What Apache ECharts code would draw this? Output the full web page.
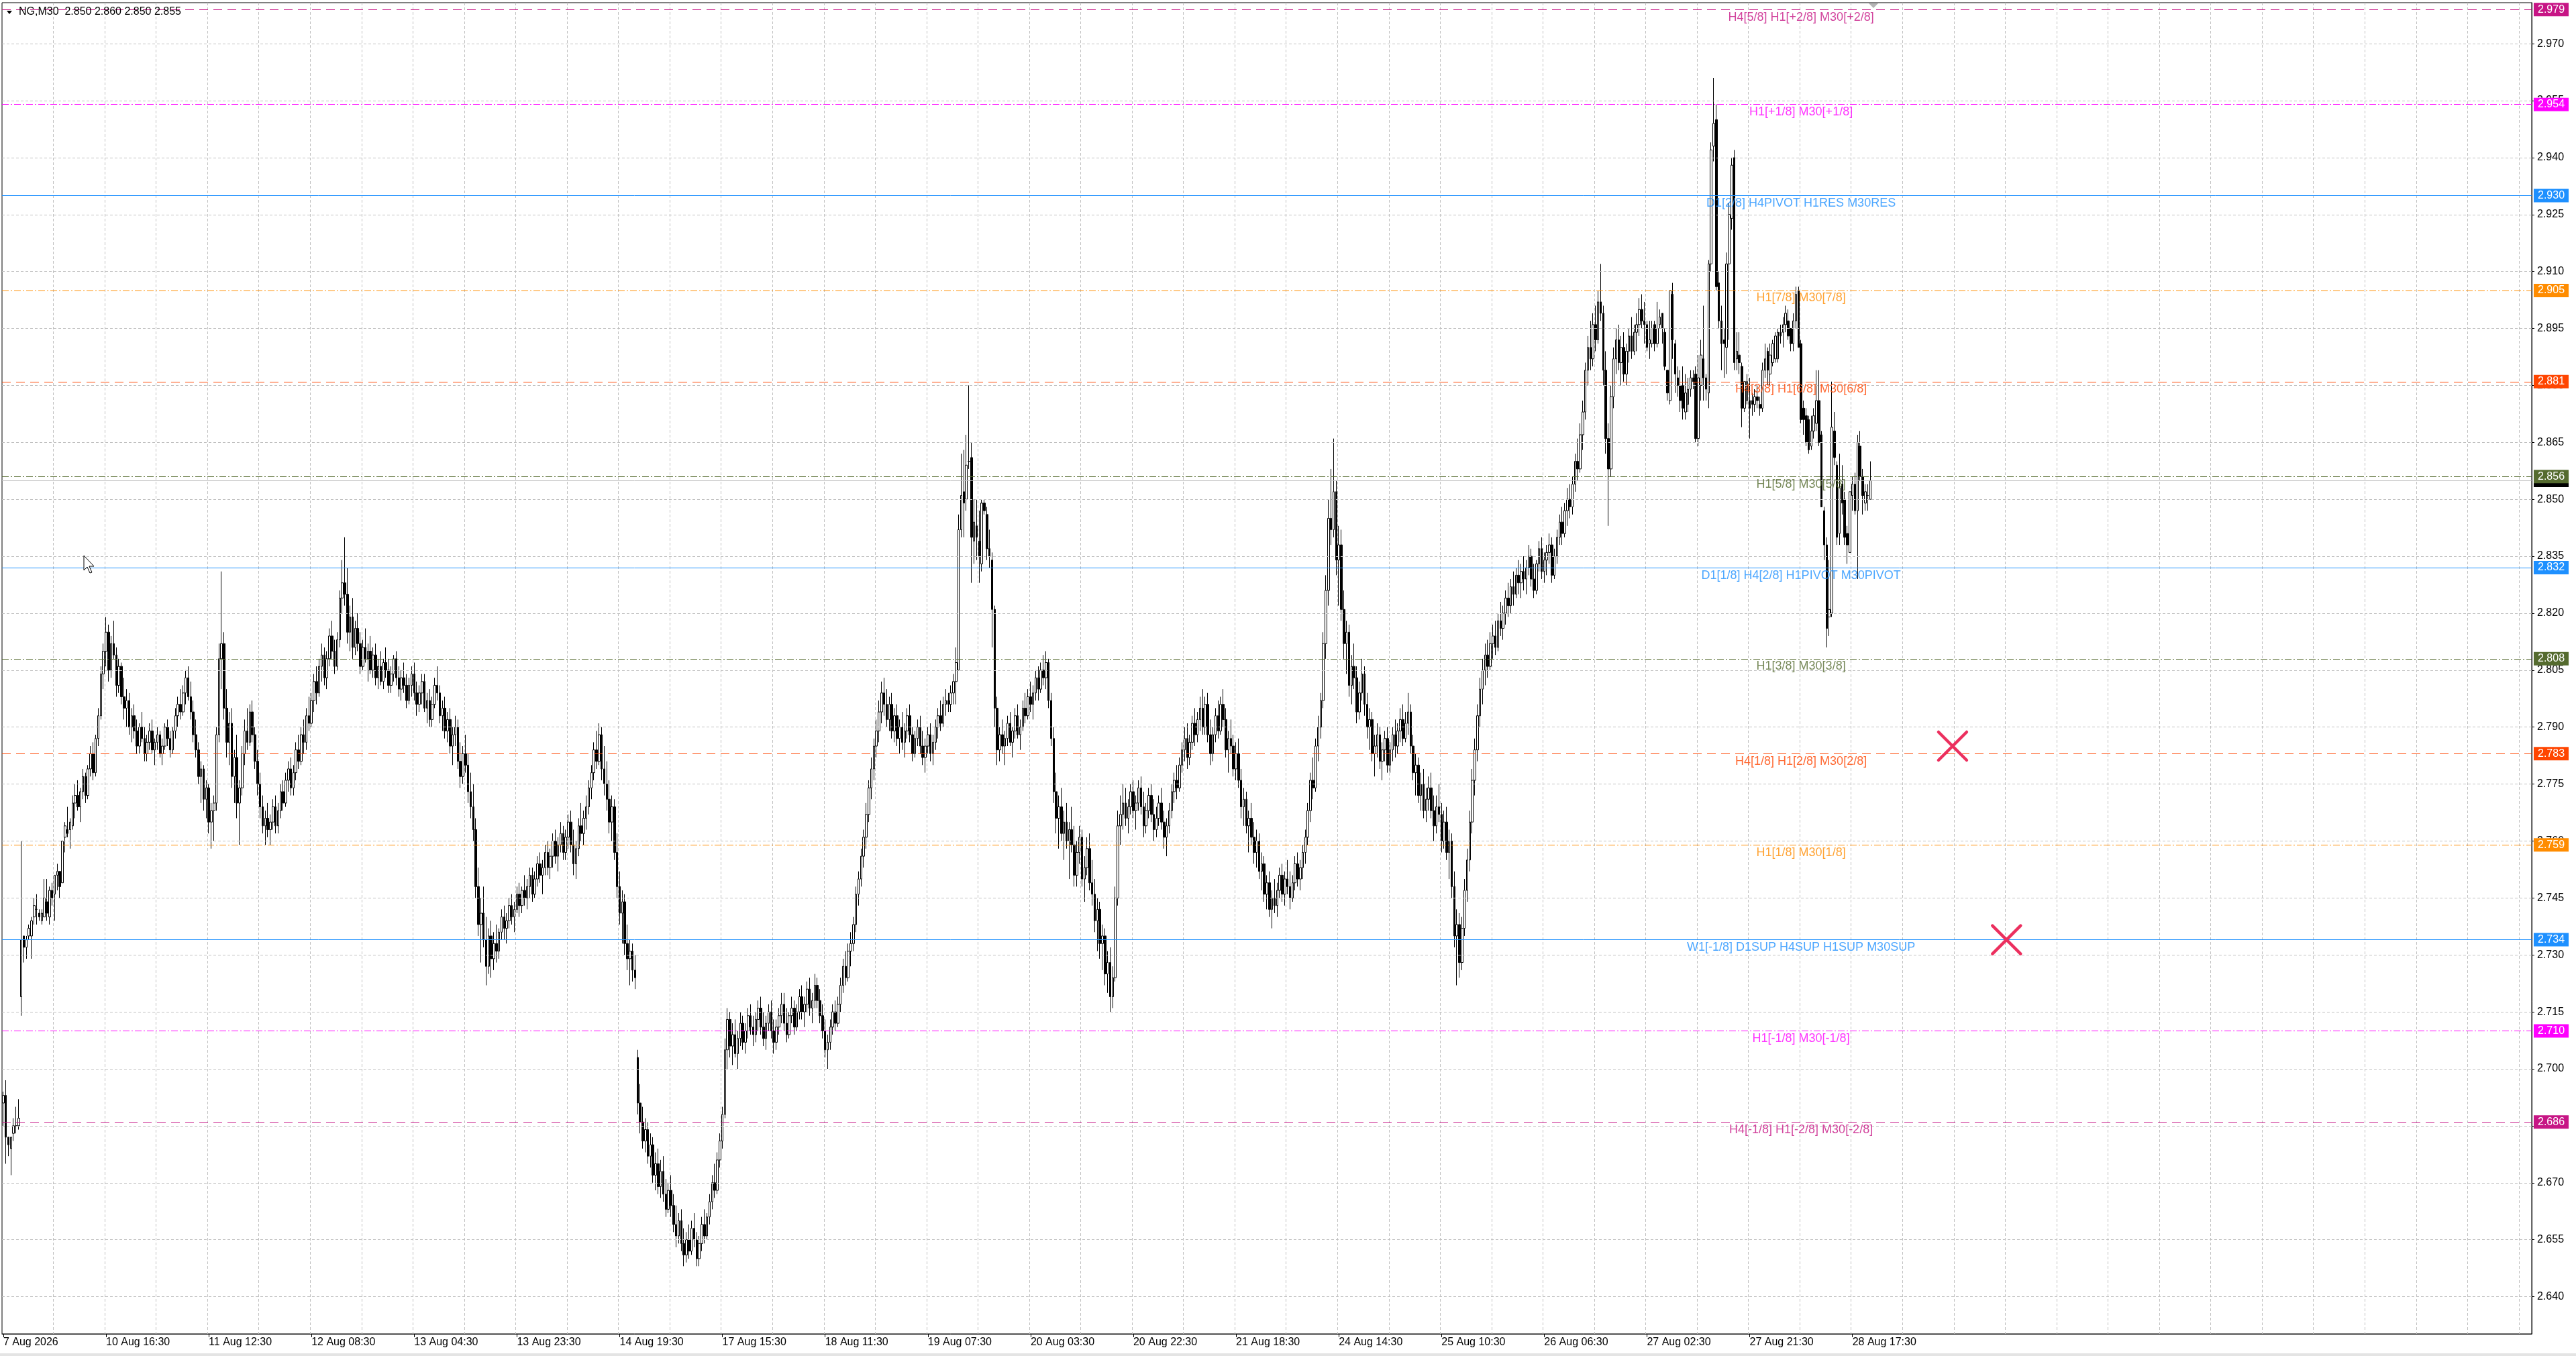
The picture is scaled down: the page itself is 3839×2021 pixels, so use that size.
<!DOCTYPE html>
<html><head><meta charset="utf-8">
<script src="https://cdn.jsdelivr.net/npm/echarts@6/dist/echarts.min.js"></script>
<style>html,body{margin:0;padding:0;background:#fff;overflow:hidden}#c{width:3839px;height:2021px}</style>
</head><body><div id="c"></div>
<script>
// ---------------- DATA ----------------
const SYMBOL = 'NG,M30';
const xTickLabels = ['7 Aug 2026','10 Aug 16:30','11 Aug 12:30','12 Aug 08:30','13 Aug 04:30','13 Aug 23:30','14 Aug 19:30','17 Aug 15:30','18 Aug 11:30','19 Aug 07:30','20 Aug 03:30','20 Aug 22:30','21 Aug 18:30','24 Aug 14:30','25 Aug 10:30','26 Aug 06:30','27 Aug 02:30','27 Aug 21:30','28 Aug 17:30'];
const yTickValues = [2.640,2.655,2.670,2.685,2.700,2.715,2.730,2.745,2.760,2.775,2.790,2.805,2.820,2.835,2.850,2.865,2.880,2.895,2.910,2.925,2.940,2.955,2.970];
const levelValues = [2.979,2.954,2.930,2.905,2.881,2.856,2.832,2.808,2.783,2.759,2.734,2.710,2.686];
const levelNames = ['H4[5/8] H1[+2/8] M30[+2/8]','H1[+1/8] M30[+1/8]','D1[2/8] H4PIVOT H1RES M30RES','H1[7/8] M30[7/8]','H4[3/8] H1[6/8] M30[6/8]','H1[5/8] M30[5/8]','D1[1/8] H4[2/8] H1PIVOT M30PIVOT','H1[3/8] M30[3/8]','H4[1/8] H1[2/8] M30[2/8]','H1[1/8] M30[1/8]','W1[-1/8] D1SUP H4SUP H1SUP M30SUP','H1[-1/8] M30[-1/8]','H4[-1/8] H1[-2/8] M30[-2/8]'];
const bidPrice = 2.855;
const crossBars = [759, 780];
const crossPrices = [2.785, 2.734];
// bars: [open, high, low, close] in thousandths above 2.000
const ohlcPart1 = [
[691,694,685,693],[693,697,675,682],[682,682,677,680],[679,682,672,682],[683,687,681,685],[685,690,683,685],[685,692,684,687],
[719,760,714,734],[735,735,728,732],[732,735,729,734],[735,738,734,737],[735,740,729,739],[740,745,738,743],[742,746,738,742],[741,742,739,740],[739,742,738,741],[740,750,740,745],[744,750,739,741],[740,748,738,747],[747,749,743,745],[746,751,739,751],[751,754,747,752],[752,752,745,748],[749,760,749,760],[761,765,757,764],[763,769,761,762],[763,766,758,765],[764,772,763,770],
[770,775,766,772],[772,776,768,769],[769,774,765,773],[773,779,771,777],[777,778,770,772],[772,780,771,779],[779,785,777,783],[783,786,776,778],[778,788,777,787],[787,795,785,793],[793,806,792,804],[804,812,800,810],[810,819,806,815],[815,817,802,805],[805,814,803,812],[812,818,808,809],[809,811,798,801],[801,808,799,806],[806,807,796,798],[798,803,792,795],[795,800,790,797],[797,799,788,790],
[790,795,786,793],[793,796,787,789],[789,792,783,785],[785,791,783,790],[790,794,786,787],[787,790,781,783],[783,788,781,786],[786,791,784,789],[789,792,783,784],[784,787,780,786],[786,790,784,788],[788,789,782,783],[783,787,780,785],[785,791,784,790],[790,792,785,787],[787,789,782,784],[784,790,783,789],[789,795,787,793],[793,798,790,796],[796,800,792,794],
[794,801,793,799],[799,805,796,803],[803,806,797,798],[798,802,792,794],[794,797,786,788],[788,792,782,784],[784,786,775,777],[777,781,770,779],[779,780,768,771],[771,776,766,774],[774,775,762,765],[765,770,758,768],[768,772,760,770],
[770,790,768,788],[788,812,786,808],[808,831,800,812],[812,815,792,795],[795,800,782,786],[786,794,780,791],[791,795,774,777],[777,784,770,782],[782,788,766,770],
[770,776,759,774],[774,785,772,783],[783,792,780,789],[789,795,784,786],[786,796,785,794],[794,797,786,788],[788,790,779,781],[781,784,772,775],[775,778,766,769],
[769,772,762,764],[764,768,759,766],[766,770,761,763],[763,767,759,765],[765,771,763,769],[769,772,762,764],[764,770,762,768],
[768,775,766,773],[773,776,768,770],[770,778,769,776],[776,781,773,779],[779,782,772,774],[774,780,772,778],[778,786,776,784],[784,788,779,781],[781,790,780,788],[788,792,783,786],
[786,795,784,793],[793,798,789,791],[791,799,790,797],[797,804,794,802],[802,806,796,799],[799,808,798,806],
[806,812,802,809],[809,811,801,803],[803,810,800,808],[808,816,806,814],[814,818,808,810],[810,813,804,806],[806,815,805,813],
[813,826,811,824],[824,834,820,828],[828,840,822,825],[825,832,812,815],[815,822,810,819],[819,824,808,811],
[811,818,809,816],[816,820,810,812],[812,815,804,806],[806,813,805,811],[811,816,807,808],[808,812,802,810],[810,814,804,805],[805,811,803,809],[809,812,801,803],[803,808,800,806],
[806,810,801,802],[802,808,800,807],[807,811,803,805],[805,808,799,801],[801,806,799,804],[804,809,802,808],[808,810,801,803],[803,806,798,800],[800,805,797,803],[803,807,799,801],[801,804,795,797],[797,803,796,801],
[801,806,798,804],[804,807,797,799],[799,802,793,796],[796,801,794,799],[799,804,796,802],[802,804,794,795],[795,799,791,797],[797,800,790,792],[792,798,790,796],[796,803,795,801],[801,806,797,799],[799,801,791,793],[793,797,789,795],
[795,798,787,789],[789,794,786,792],[792,795,783,785],[785,790,780,788],[788,793,785,790],[790,792,779,781],[781,786,774,777],[777,785,775,783],[783,788,778,780],[780,783,770,773],
[773,778,766,769],[769,775,760,763],[763,766,745,748],[748,753,735,738],[738,745,728,741],[741,748,732,734],[734,740,722,727],[727,737,725,735],[735,739,724,729],
[729,736,726,733],[733,738,728,731],[731,737,729,736],[736,742,734,740],[740,743,734,737],[737,741,733,739],[739,745,737,743],[743,746,738,740],[740,744,736,742],[742,748,741,746],[746,749,740,743],[743,748,741,747],[747,751,743,745],
[745,750,742,748],[748,753,745,751],[751,753,744,746],[746,752,745,750],[750,756,748,754],[754,757,749,751],[751,755,746,753],[753,759,751,757],[757,760,751,753],[753,758,750,756],[756,762,753,760],[760,763,754,756],[756,761,752,759],[759,765,757,762],[762,764,755,757],[757,763,755,761],
[761,767,758,765],[765,768,757,759],[759,763,751,754],[754,760,750,758],[758,766,756,764],[764,770,760,762],[762,768,759,766],[766,772,763,769],[769,776,767,774],[774,780,771,778],
[778,786,776,784],[784,789,779,781],[781,791,780,788],[788,790,776,779],[779,785,772,775],
[775,781,768,771],[771,776,762,765],[765,772,760,769],[769,771,755,757],
[757,762,745,748],[748,752,738,741],[741,747,733,744],[744,746,730,733],[733,738,726,729],[729,734,722,731],[731,733,723,726],[726,730,721,724]
];
const ohlcPart2 = [
[703,705,688,691],[691,696,683,686],[686,690,679,681],[681,687,678,684],[684,686,675,677],
[677,683,674,680],[680,682,670,672],[672,678,668,675],[675,679,667,669],[669,676,666,673],[673,677,665,667],[667,671,661,663],[663,670,662,668],[668,672,661,664],[664,667,657,659],
[659,664,653,656],[656,662,654,660],[660,663,652,654],[654,658,648,651],[651,657,649,655],[655,659,650,652],
[652,660,651,658],[658,662,653,655],[655,657,648,650],[650,656,648,654],[654,661,652,659],[659,663,654,656],[656,662,655,661],[661,667,659,665],
[665,672,663,670],[670,675,666,668],[668,678,667,676],[676,683,674,681],[681,690,679,688],
[688,708,687,705],[705,716,700,713],[713,715,703,706],
[706,712,701,709],[709,713,703,704],[704,710,700,708],[708,715,706,712],[712,714,705,707],[707,712,704,710],[710,716,708,714],[714,717,709,711],[711,714,706,709],[709,715,707,713],
[713,718,710,716],[716,719,709,711],[711,715,706,708],[708,714,705,712],[712,717,710,715],[715,718,708,710],[710,713,704,707],[707,713,705,711],[711,716,709,714],
[714,720,712,717],[717,720,710,712],[712,716,707,709],[709,715,708,714],[714,719,712,716],[716,718,709,711],[711,717,710,715],[715,721,713,719],[719,722,713,715],[715,719,711,717],
[717,723,715,721],[721,724,714,716],[716,720,712,718],[718,725,716,722],[722,724,716,718],[718,721,712,714],
[714,717,708,710],[710,713,703,705],[705,709,700,707],[707,713,705,711],[711,717,709,715],[715,718,710,712],[712,719,711,717],[717,724,715,722],
[722,729,720,727],[727,731,722,724],[724,733,723,731],[731,736,727,733],[733,740,731,738],
[738,748,736,746],[746,752,743,750],[750,758,748,756],[756,763,753,761],[761,770,758,767],
[767,776,765,774],[774,782,771,779],[779,787,776,785],[785,792,782,789],[789,797,786,794],
[794,802,791,799],[799,803,793,796],[796,800,790,792],[792,798,789,796],[796,799,787,789],[789,795,786,793],
[793,796,785,787],[787,792,783,790],[790,794,784,786],[786,791,782,789],[789,795,787,793],[793,796,786,788],[788,790,781,783],[783,789,782,787],[787,792,785,790],[790,793,783,785],
[785,789,780,782],[782,787,778,785],[785,790,783,788],[788,791,781,783],[783,788,780,786],[786,792,784,790],[790,795,787,793],[793,797,789,791],[791,798,790,796],[796,800,793,797],[797,799,794,796],[796,801,794,799],[799,804,796,802],[802,811,796,807],
[805,846,805,842],[842,862,840,851],[852,863,840,849],[850,867,847,859],[860,880,858,860],[861,865,828,840],[839,850,833,844],[843,850,834,840],[839,847,828,835],[833,850,831,849],[849,850,846,847],[846,848,834,837],[837,842,832,835],[834,836,811,821],[821,822,790,795],[795,798,780,784],
[784,790,781,788],[788,792,783,785],[785,789,780,787],[787,793,785,791],[791,794,785,786],[786,790,782,789],[789,795,787,793],[793,796,787,788],[788,792,784,790],[790,797,789,795],[795,799,791,793],[793,800,792,798],
[798,802,794,796],[796,801,792,799],[799,805,797,803],[803,806,797,800],[800,807,799,805],[805,809,801,803],[803,810,800,807],[807,808,795,797],[797,799,785,787],
[787,790,770,773],[773,778,762,766],[766,772,758,769],[769,774,760,762],[762,768,755,765],
[765,770,758,760],[760,765,750,763],[763,769,757,759],[759,764,748,751],[751,760,748,757],[757,764,754,761],[761,763,748,750],[750,756,744,753],[753,761,751,758],[758,762,747,749],[749,755,743,746],
[746,750,736,739],[739,745,731,742],[742,744,729,733],[733,738,726,735],[735,737,722,725],[725,731,720,728],[728,732,715,719],[719,727,716,724],
[724,748,723,745],[745,768,743,764],[764,772,759,767],[767,775,763,770],
[770,774,764,766],[766,771,762,769],[769,775,767,773],[773,776,766,768],[768,772,763,770],[770,776,768,774],[774,777,767,769],[769,773,761,764],[764,770,762,768],[768,774,766,772],[772,775,765,767],[767,771,760,763],[763,769,761,766],[766,772,764,770],[770,774,763,765],[765,768,758,761],
[761,766,756,764],[764,770,762,768],[768,775,766,773],[773,778,770,776],[776,780,771,774],[774,782,773,780],[780,786,778,784],
[784,790,781,787],[787,791,779,782],[782,788,780,786],[786,793,784,791],[791,795,785,788],[788,794,786,792],[792,798,789,795],[795,800,788,790],[790,798,788,796],
[796,799,786,788],[788,792,780,783],[783,790,781,788],[788,795,786,793],[793,797,787,789],[789,798,788,796],[796,800,790,792],[792,795,782,784],[784,789,778,787],[787,792,783,785],[785,788,777,779],[779,786,776,783],[783,787,774,776],
[776,779,766,769],[769,774,764,771],[771,773,762,764],[764,768,757,766],[766,770,759,761],[761,765,754,757],[757,763,753,760]
];
const ohlcPart3 = [
[760,762,750,752],[752,757,747,754],[754,756,744,746],[746,751,742,749],[749,752,740,742],[742,747,737,745],[745,750,741,743],[743,749,740,747],[747,753,745,751],
[751,754,744,746],[746,752,743,750],[750,755,746,748],[748,752,742,745],[745,751,744,749],[749,756,747,754],[754,757,748,750],[750,755,747,753],[753,759,750,757],[757,763,754,761],
[761,770,759,768],[768,778,765,776],[776,782,771,774],[774,787,773,785],[785,793,781,790],[790,799,787,797],
[797,815,795,812],[812,830,808,826],[826,850,822,845],[845,858,838,842],[842,866,840,852],[852,855,830,834],[834,843,822,838],[838,842,818,821],
[821,826,808,812],[812,818,804,815],[815,817,798,801],[801,809,796,806],[806,812,800,803],[803,806,791,794],[794,802,792,799],[799,808,797,804],[804,806,793,796],[796,799,787,790],[790,795,784,792],
[792,794,781,783],[783,788,777,785],[785,791,782,788],[788,790,779,781],[781,786,776,784],[784,789,781,787],[787,790,778,780],
[780,786,778,784],[784,790,781,788],[788,792,782,785],[785,791,783,789],[789,795,786,792],[792,796,785,787],[787,794,786,791],[791,799,788,794],[794,796,783,785],
[785,788,776,778],[778,783,772,780],[780,782,770,772],[772,778,768,775],[775,779,766,768],[768,774,765,771],[771,777,768,774],
[774,778,766,768],[768,772,760,764],[764,772,762,769],[769,775,765,767],[767,770,757,760],[760,768,758,765],[765,769,755,757],[757,763,750,760],[760,762,745,748],
[748,752,732,735],[735,742,722,738],[738,741,724,728],[728,740,726,737],[737,750,735,747],
[747,758,744,755],[755,768,752,765],[765,779,762,776],[776,787,772,784],[784,796,781,793],
[793,803,790,800],[800,808,796,805],[805,812,801,809],[809,813,803,806],[806,815,805,812],[812,817,808,814],[814,818,809,811],[811,820,810,818],
[818,823,814,816],[816,822,813,820],[820,826,817,824],[824,828,819,822],[822,829,820,827],[827,831,822,825],[825,832,824,830],[830,834,825,828],
[828,833,824,831],[831,835,826,829],[829,834,825,832],[832,838,830,835],[835,837,827,829],[829,833,824,826],[826,834,825,833],[833,839,831,837],[837,840,829,831],[831,836,828,834],[834,838,830,836],[836,841,833,838],[838,840,828,830],[830,837,829,835],[835,842,833,840],
[840,846,838,844],[844,848,838,841],[841,849,840,847],[847,853,843,850],[850,854,845,848],[848,856,846,854],
[854,862,852,860],[860,866,855,858],[858,870,857,867],[867,876,863,873],
[873,886,871,884],[884,893,880,890],[890,897,884,887],[887,899,885,896],[896,901,889,892],[892,905,891,902],[902,912,897,899],
[899,901,880,884],[884,889,862,866],[866,870,843,858],[858,880,856,877],[877,890,874,887],[887,895,883,892],
[892,896,884,886],[886,893,880,890],[890,894,881,883],[883,891,880,889],[889,895,886,893],[893,898,887,889],[889,896,888,894],
[894,899,889,896],[896,903,893,900],[900,904,895,897],[897,902,891,896],
[896,897,889,890],[891,897,887,892],[891,897,890,895],[896,897,889,891],[891,902,890,895],[896,900,895,898],[899,899,891,895],[894,895,884,885],[884,884,876,878],[876,905,875,905],[904,907,887,892],[891,892,878,883],[882,885,877,880],[880,884,873,876],[880,885,871,874],[873,883,871,878],[875,882,873,879],[879,884,877,882],
[882,884,879,881],
[883,885,865,866],[866,888,864,882],[880,892,876,888],[887,901,876,882],[882,883,876,879],[878,913,874,912],[912,944,910,942],[943,961,939,949],[950,954,905,906],[907,910,895,897],[897,901,884,891],[892,895,882,891],[890,915,883,912],[912,928,892,925],[924,940,921,938],[940,942,884,886],[887,894,884,889],[888,894,883,886],[885,886,869,874],[874,881,873,881],[876,883,875,881],[876,882,866,874],[876,878,872,875],[875,879,873,877],
[877,880,874,876],
[875,877,872,874],[874,886,873,884],[884,891,882,887],[889,890,880,884],[883,891,880,888],[886,892,885,891],[887,894,886,893],[887,895,886,894],
[894,896,891,893],
[894,898,890,896],[896,901,894,899],[897,900,892,893],[895,895,889,891],[891,899,889,897],[897,906,895,904],[905,906,890,890],[891,892,870,871],[874,876,867,871],[872,874,864,865],[871,872,862,863],[864,872,863,868],[868,874,866,872],[870,884,868,876],[876,884,864,865],
[867,868,848,848],[847,848,834,838],[838,840,811,816],[819,834,814,821],[820,881,819,869],[868,873,859,861],[859,860,838,840],[841,862,838,853],[854,859,846,849],[850,852,838,840],[841,843,833,838],[836,852,836,852],[851,856,847,854],[854,857,846,847],[847,867,829,865],[864,868,855,856],[856,858,846,851],[849,854,847,852],[851,854,847,851],[850,860,850,855]
];

// ---------------- BUILD ----------------
const PRICE_BASE = 2, PRICE_UNIT = 0.001;
const price = v => +(PRICE_BASE + v * PRICE_UNIT).toFixed(3);
const bars = ohlcPart1.concat(ohlcPart2, ohlcPart3);
const candleData = bars.map(b => [price(b[0]), price(b[3]), price(b[2]), price(b[1])]);
const last = bars[bars.length - 1];
const header = SYMBOL + '  ' + [last[0], last[1], last[2], last[3]].map(v => price(v).toFixed(3)).join(' ');

// ---------------- LAYOUT / STYLE ----------------
const N_CAT = 985, BARS_PER_LABEL = 40, BARS_PER_GRID = 20, LABEL_BAR = 700;
const Y_MIN = 2.6302, Y_MAX = 2.9808;
const FONT = 'Liberation Sans';
const DASH = [13, 8], DASHDOT = [10, 3, 2, 3];
const levelStyles = [
  {c:'#C71585', t:DASH}, {c:'#FF00FF', t:DASHDOT}, {c:'#1E90FF', t:'solid'}, {c:'#FF8C00', t:DASHDOT},
  {c:'#FF4500', t:DASH}, {c:'#556B2F', t:DASHDOT}, {c:'#1E90FF', t:'solid'}, {c:'#556B2F', t:DASHDOT},
  {c:'#FF4500', t:DASH}, {c:'#FF8C00', t:DASHDOT}, {c:'#1E90FF', t:'solid'}, {c:'#FF00FF', t:DASHDOT},
  {c:'#C71585', t:DASH}
];
const categories = Array.from({length: N_CAT}, (_, i) => String(i));
const isLabelIdx = i => i % BARS_PER_LABEL === 0 && i / BARS_PER_LABEL < xTickLabels.length;

const chart = echarts.init(document.getElementById('c'), null, {renderer: 'canvas'});
const boxLabel = (txt, bg) => ({show: true, position: 'end', distance: 3, formatter: txt, color: '#fff',
  backgroundColor: bg, padding: [2, 6, 1, 6], fontSize: 16, fontFamily: FONT, lineHeight: 17});

chart.setOption({
  animation: false,
  backgroundColor: '#fff',
  grid: {left: 3, right: 66, top: 4, bottom: 33, show: true, borderColor: '#000', borderWidth: 1, backgroundColor: '#fff'},
  xAxis: {
    type: 'category', data: categories, boundaryGap: true,
    axisLine: {show: true, lineStyle: {color: '#000', width: 1}},
    axisTick: {show: true, alignWithLabel: true, interval: isLabelIdx, length: 5, lineStyle: {color: '#000'}},
    axisLabel: {show: true, interval: isLabelIdx, formatter: (v) => xTickLabels[Number(v) / BARS_PER_LABEL] || '',
      align: 'left', color: '#000', fontSize: 16, fontFamily: FONT, margin: 5},
    splitLine: {show: true, interval: i => i % BARS_PER_GRID === 0 && i > 0, lineStyle: {color: '#C0C0C0', type: [4, 3], width: 1}}
  },
  yAxis: {
    type: 'value', position: 'right', min: Y_MIN, max: Y_MAX,
    axisLine: {show: true, onZero: false, lineStyle: {color: '#000', width: 1}},
    axisTick: {show: true, inside: false, length: 4, customValues: yTickValues, lineStyle: {color: '#000'}},
    axisLabel: {show: true, customValues: yTickValues, formatter: v => v.toFixed(3), color: '#000', fontSize: 16, fontFamily: FONT, margin: 8},
    splitLine: {show: false}
  },
  series: [
    { // horizontal grid
      type: 'line', data: [], z: 1, silent: true,
      markLine: {silent: true, precision: 4, symbol: ['none', 'none'], animation: false, label: {show: false},
        lineStyle: {color: '#C0C0C0', type: [4, 3], width: 1},
        data: yTickValues.map(v => ({yAxis: v}))}
    },
    { // bid line
      type: 'line', data: [], z: 2, silent: true,
      markLine: {silent: true, precision: 4, symbol: ['none', 'none'], animation: false,
        data: [{yAxis: bidPrice, lineStyle: {color: '#C0C0C0', type: 'solid', width: 1}, label: boxLabel(bidPrice.toFixed(3), '#000')}]}
    },
    { // level lines
      type: 'line', data: [], z: 3, silent: true,
      markLine: {silent: true, precision: 4, symbol: ['none', 'none'], animation: false,
        data: levelValues.map((v, i) => ({yAxis: v, lineStyle: {color: levelStyles[i].c, type: levelStyles[i].t, width: 1},
          label: boxLabel(v.toFixed(3), levelStyles[i].c)}))}
    },
    { // candles
      type: 'candlestick', data: candleData, z: 4, barWidth: 3, large: false, progressive: 0, silent: true,
      itemStyle: {color: '#fff', color0: '#000', borderColor: '#000', borderColor0: '#000', borderWidth: 1}
    },
    { // level names
      type: 'scatter', z: 5, silent: true, symbolSize: 1, itemStyle: {color: 'rgba(0,0,0,0)'},
      data: levelValues.map((v, i) => ({value: [LABEL_BAR, v],
        label: {show: true, position: 'bottom', distance: 2, formatter: levelNames[i], color: levelStyles[i].c, fontSize: 18, fontFamily: FONT}}))
    },
    { // crosses
      type: 'custom', z: 6, silent: true,
      data: crossBars.map((b, i) => [b, crossPrices[i]]),
      renderItem: (params, api) => {
        const p = api.coord([api.value(0), api.value(1)]);
        const s = 21, st = {stroke: '#EC2F5E', lineWidth: 4.5, lineCap: 'round'};
        return {type: 'group', children: [
          {type: 'line', shape: {x1: p[0]-s, y1: p[1]-s, x2: p[0]+s, y2: p[1]+s}, style: st},
          {type: 'line', shape: {x1: p[0]-s, y1: p[1]+s, x2: p[0]+s, y2: p[1]-s}, style: st}
        ]};
      }
    }
  ],
  graphic: [
    {type: 'polygon', shape: {points: [[10, 16], [18, 16], [14, 21]]}, style: {fill: '#000'}, z: 10},
    {type: 'text', left: 28, top: 10, style: {text: header, font: '16px "Liberation Sans"', fill: '#000'}, z: 10},
    {type: 'polygon', shape: {points: [[2785, 5], [2799, 5], [2792, 12]]}, style: {fill: '#B4B4B4'}, z: 10},
    {type: 'polygon', shape: {points: [[125,828],[125,850],[130,845],[134,854],[137,853],[133,844],[140,844]]}, style: {fill: '#fff', stroke: '#000', lineWidth: 1}, z: 10},
    {type: 'rect', shape: {x: 0, y: 2017, width: 3839, height: 4}, style: {fill: '#E4E4E4'}, z: 10}
  ]
});
</script>
</body></html>
